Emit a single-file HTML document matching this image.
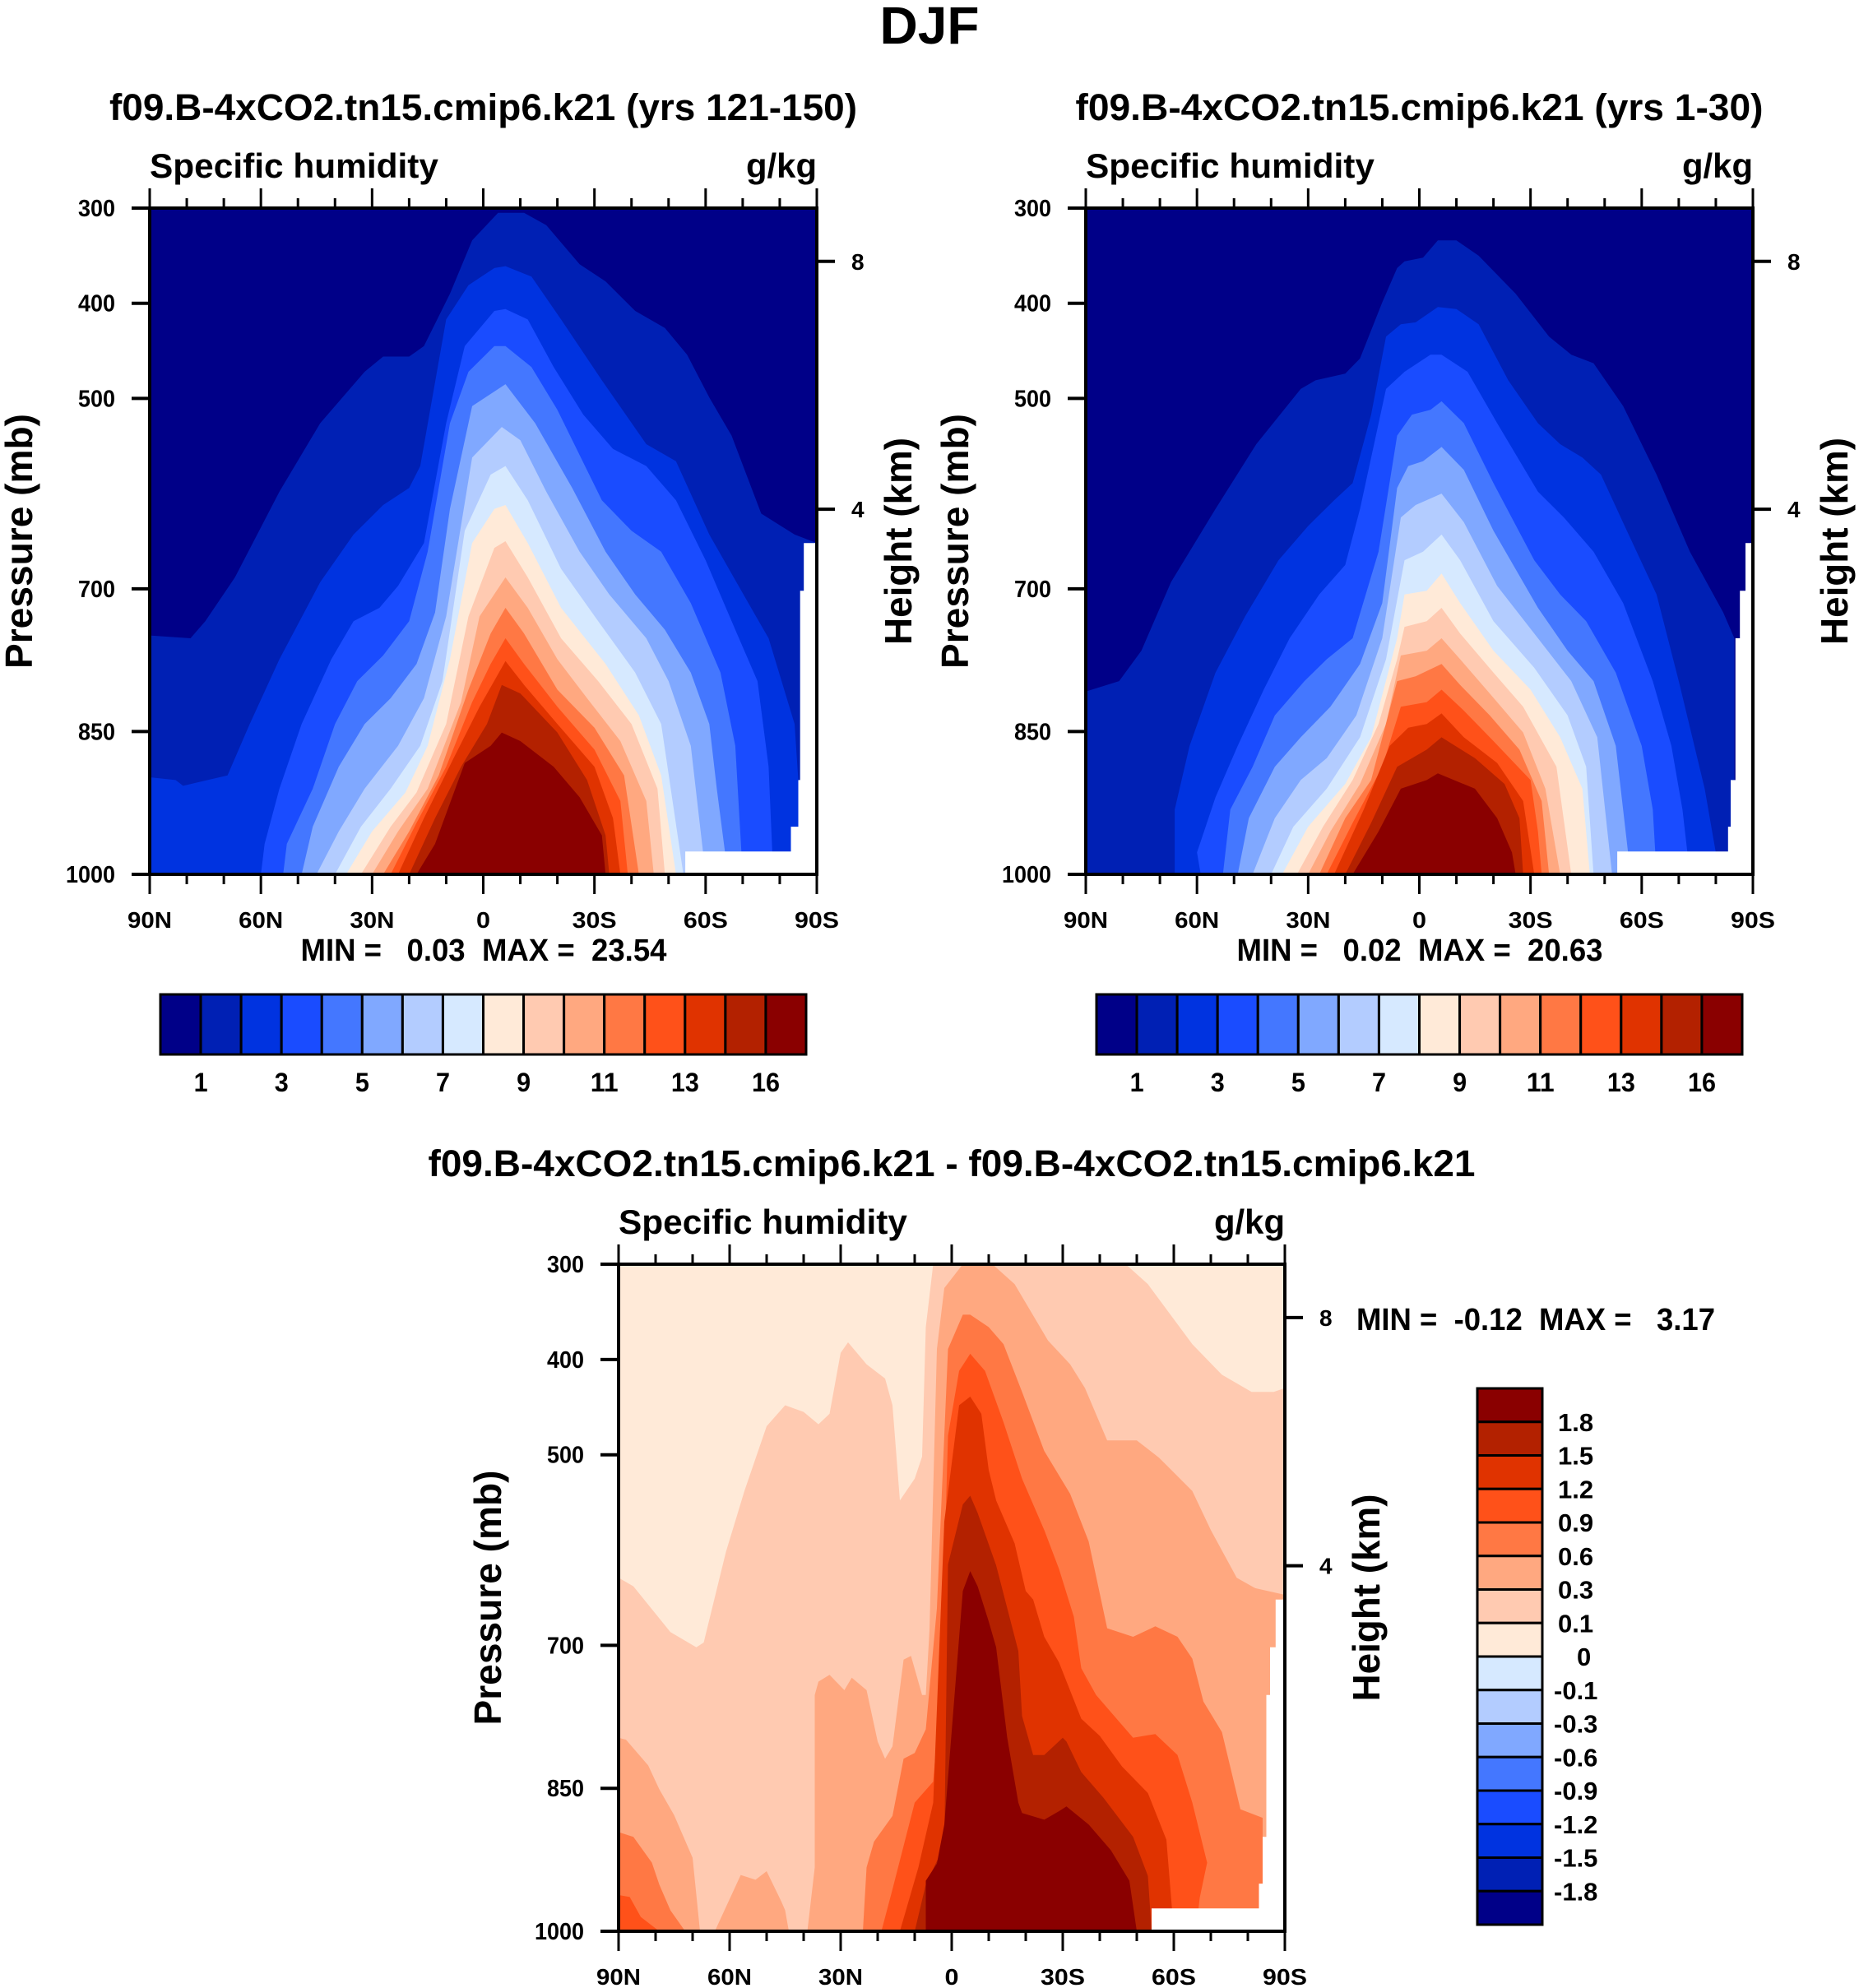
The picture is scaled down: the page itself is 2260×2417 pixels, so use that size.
<!DOCTYPE html>
<html><head><meta charset="utf-8"><title>DJF Specific humidity</title>
<style>html,body{margin:0;padding:0;background:#fff}svg{display:block}text{font-family:"Liberation Sans",sans-serif;font-weight:bold;fill:#000}</style>
</head><body>
<svg id="fig" xmlns="http://www.w3.org/2000/svg" width="2260" height="2417" viewBox="0 0 2260 2417">
<text x="1130" y="53" font-size="64" text-anchor="middle">DJF</text>
</svg>
<script>
// ---------- data ----------
const colors = ["#000088","#0020b4","#0033e0","#1a4cff","#4477ff","#80a8ff","#b3ccff","#d6e9ff","#ffead8","#ffcab1","#ffa880","#ff7844","#ff5119","#e03300","#b32100","#8a0000"];
const xTickLats = [90,60,30,0,-30,-60,-90];
const xTickLabels = ["90N","60N","30N","0","30S","60S","90S"];
const pTicks = [300,400,500,700,850,1000];
const pTickLabels = ["300","400","500","700","850","1000"];
const hTicks = [8,4];
const topBarLabels = ["1","3","5","7","9","11","13","16"];
const topBarLabelIdx = [1,3,5,7,9,11,13,15];
const diffBarLabels = ["1.8","1.5","1.2","0.9","0.6","0.3","0.1","0","-0.1","-0.3","-0.6","-0.9","-1.2","-1.5","-1.8"];

// Panel A (yrs 121-150): contour level regions (lat, pressure mb)
const aLat = [
 [90,79,75,67,55,44,32,27,20,16,9,3,-4,-11,-17,-26,-33,-41,-49,-55,-61,-67,-75,-84,-90],
 [90,83,81,69,63,55,44,35,27,20,17,10,4,-3,-6,-13,-21,-32,-44,-52,-61,-73,-77,-84,-85,-85],
 [60,59,55,49,41,35,28,23,16,10,5,-3,-6,-12,-19,-27,-35,-44,-52,-60,-68,-74,-77,-78,-78],
 [54,53,46,40,34,27,20,15,9,4,-3,-6,-13,-20,-32,-40,-48,-56,-64,-68,-70],
 [49,46,39,32,25,18,13,9,3,-6,-14,-24,-33,-41,-49,-56,-61,-63,-66],
 [45,39,32,23,16,10,3,-5,-10,-17,-26,-34,-44,-50,-56,-60],
 [40,33,25,17,11,5,-2,-6,-12,-21,-31,-41,-48,-54],
 [37,30,21,15,9,3,-3,-6,-12,-21,-33,-42,-48,-52],
 [33,25,18,10,4,-3,-6,-12,-21,-31,-40,-47,-49],
 [30,23,15,6,1,-6,-12,-20,-28,-37,-44,-46],
 [27,20,12,4,-2,-6,-11,-20,-30,-38,-42],
 [25,18,10,3,-2,-6,-11,-20,-30,-37,-39],
 [23,16,8,1,-6,-11,-20,-30,-35,-37],
 [20,13,6,-1,-5,-10,-20,-28,-33,-34],
 [18,13,5,-2,-5,-10,-19,-26,-32,-33]
];
const aP = [
 [749,752,734,688,598,526,472,456,456,445,390,334,305,305,318,359,377,408,426,454,499,539,621,643,652],
 [898,901,907,896,842,774,693,643,612,594,571,417,381,363,361,372,417,481,548,566,643,725,752,842,901,1000],
 [1000,968,910,842,774,734,720,697,652,526,445,408,406,417,467,517,553,571,607,670,743,797,887,977,1000],
 [1000,968,910,842,797,770,734,661,526,472,445,445,467,512,607,639,661,715,788,865,1000],
 [1000,950,887,842,815,779,725,616,508,485,526,594,661,706,743,788,842,910,1000],
 [1000,955,910,865,815,729,562,530,544,598,661,706,752,797,865,1000],
 [1000,950,910,865,797,639,580,571,607,679,734,788,842,1000],
 [1000,955,914,865,774,652,616,612,652,720,779,833,896,1000],
 [1000,950,914,842,729,657,650,688,752,797,842,910,1000],
 [1000,955,910,819,729,688,720,774,815,860,923,1000],
 [1000,955,896,806,747,720,747,806,846,896,1000],
 [1000,946,887,819,779,752,779,824,869,923,1000],
 [1000,941,878,824,776,801,842,887,941,1000],
 [1000,941,887,842,801,810,851,901,959,1000],
 [1000,968,883,865,851,860,887,919,959,1000]
];
// Panel B (yrs 1-30)
const bLat = [
 [90,81,75,67,55,44,32,28,20,16,10,6,4,-1,-5,-10,-16,-26,-35,-41,-47,-55,-64,-73,-82,-85,-85],
 [66,66,62,55,47,38,30,23,18,13,9,5,1,-5,-10,-16,-24,-32,-38,-44,-49,-56,-64,-70,-77,-80,-80],
 [59,60,55,49,42,35,27,20,16,9,4,-3,-6,-13,-21,-32,-39,-47,-55,-63,-68,-71,-73],
 [53,51,45,39,31,25,18,11,6,2,-3,-6,-12,-20,-31,-38,-45,-53,-60,-63,-64],
 [49,46,39,32,24,16,10,6,3,-1,-6,-12,-20,-32,-40,-47,-53,-57],
 [45,39,32,25,17,10,5,1,-6,-12,-21,-32,-41,-48,-52],
 [40,34,25,16,9,4,-1,-6,-11,-20,-31,-40,-45,-47],
 [37,30,20,13,6,4,-2,-6,-11,-20,-30,-38,-44,-46],
 [33,26,18,11,6,4,-2,-6,-11,-20,-28,-37,-41],
 [30,24,16,9,5,-2,-6,-11,-19,-28,-34,-38],
 [27,20,13,6,1,-6,-11,-19,-27,-33,-35],
 [25,18,10,5,-2,-6,-12,-20,-30,-32,-33],
 [23,15,8,3,-2,-6,-12,-21,-28,-31],
 [20,13,6,-2,-6,-15,-23,-27,-28],
 [18,11,5,-2,-5,-15,-21,-25,-26]
];
const bP = [
 [808,797,765,693,616,548,490,481,474,458,399,363,356,352,334,334,350,390,435,454,463,508,580,661,725,752,1000],
 [1000,932,865,788,729,670,634,607,589,517,435,422,420,404,406,422,481,526,548,562,580,639,706,797,910,977,1000],
 [1000,977,919,865,806,752,706,675,616,490,472,454,454,472,526,598,625,661,715,797,865,932,1000],
 [1000,932,887,833,797,774,752,661,539,517,512,503,526,589,670,706,734,788,865,932,1000],
 [1000,941,887,856,824,779,715,594,571,566,551,575,639,720,765,797,865,1000],
 [1000,941,901,878,833,752,625,612,600,630,697,752,797,856,1000],
 [1000,950,910,856,774,670,661,643,670,734,783,833,887,1000],
 [1000,950,905,856,752,706,702,684,715,765,806,856,910,1000],
 [1000,950,901,842,774,740,734,720,747,788,824,887,1000],
 [1000,955,905,842,770,765,752,774,810,851,910,1000],
 [1000,941,901,797,792,779,801,833,869,923,1000],
 [1000,946,887,824,819,806,828,860,901,955,1000],
 [1000,932,865,846,842,831,856,883,923,1000],
 [1000,946,887,869,856,878,905,941,1000],
 [1000,955,910,901,894,910,941,977,1000]
];
// Panel C (difference): levels 0.1,0.3,0.6,0.9,1.2,1.5,1.8 (each may have several blobs)
const cLevelIdx = [9,10,10,10,11,11,12,12,13,14,15];
const cLat = [
 [90,86,76,69,67,61,56,50,45,40,36,33,30,28,23,18,16,14,10,8,7,5,-47,-53,-65,-73,-81,-87,-90],
 [39,37,37,36,33,29,27,23,20,18,16,13,11,8,7,6,4,2,-3,-11,-17,-26,-32,-36,-42,-50,-56,-65,-70,-77,-82,-90],
 [90,88,82,79,75,70,68],
 [64,57,53,50,46,45,44],
 [24,23,21,16,13,10,7,4,3,1,-3,-5,-10,-14,-19,-25,-32,-37,-42,-49,-55,-61,-65,-68,-73,-78,-84,-84],
 [90,86,81,79,76,72],
 [19,16,10,5,3,1,-2,-5,-9,-14,-19,-25,-29,-33,-35,-39,-45,-49,-55,-61,-65,-69,-67,-66],
 [90,87,84,79],
 [14,9,5,2,-2,-5,-8,-10,-12,-17,-20,-22,-25,-29,-35,-40,-46,-53,-58,-60],
 [10,7,2,1,-3,-5,-7,-12,-15,-18,-19,-22,-25,-30,-31,-35,-41,-49,-53,-54],
 [7,7,4,2,-3,-5,-7,-10,-12,-15,-18,-19,-25,-29,-31,-37,-43,-48,-50]
];
const cP = [
 [629,638,686,702,697,602,538,470,448,455,468,457,393,382,405,420,448,548,525,502,366,300,300,321,384,416,434,434,430],
 [1000,933,752,738,731,747,734,747,801,819,806,715,711,752,752,684,389,325,300,300,321,380,405,430,485,485,503,538,579,629,640,647],
 [797,799,826,851,878,923,1000],
 [1000,941,946,937,969,978,1000],
 [1000,933,906,879,819,813,788,661,570,389,353,353,366,384,434,496,541,591,682,691,680,691,714,759,791,872,881,1000],
 [896,901,928,951,978,1000],
 [1000,956,865,843,752,480,412,394,412,466,525,579,620,670,724,752,779,797,793,815,865,928,965,1000],
 [962,964,985,1000],
 [1000,933,865,570,448,439,457,516,548,593,643,652,691,718,777,795,827,855,904,1000],
 [1000,951,910,615,552,543,561,616,661,706,774,815,815,797,801,833,860,901,942,1000],
 [1000,947,929,888,643,622,638,675,702,797,865,876,883,874,869,888,915,947,1000]
];
// missing-data (below ground) mask per panel
const aMaskLat = [-90,-86.5,-86.5,-85.5,-85.5,-85,-85,-83,-83,-54.5,-54.5,-90];
const aMaskP = [652,652,702,702,901,901,950,950,976,976,1000,1000];
const bMaskLat = [-90,-88,-88,-86.5,-86.5,-85.3,-85.3,-84,-84,-83.3,-83.3,-53.4,-53.4,-90];
const bMaskP = [652,652,702,702,752,752,901,901,950,950,976,976,1000,1000];
const cMaskLat = [-90,-87.5,-87.5,-86,-86,-85,-85,-84,-84,-83,-83,-54,-54,-90];
const cMaskP = [652,652,702,702,752,752,901,901,950,950,976,976,1000,1000];

// ---------- drawing ----------
const NS = "http://www.w3.org/2000/svg";
const svg = document.getElementById("fig");
function el(tag, attrs, parent){
  const e = document.createElementNS(NS, tag);
  for (const k in attrs) e.setAttribute(k, attrs[k]);
  (parent||svg).appendChild(e);
  return e;
}
function txt(str, x, y, size, anchor, parent, extra){
  const t = el("text", Object.assign({x:x, y:y, "font-size":size, "text-anchor":anchor||"start"}, extra||{}), parent);
  t.textContent = str;
  return t;
}
function hToP(h){ return 1013.25*Math.pow(1-2.25577e-5*h*1000, 5.25588); }

function drawPanel(cfg){
  const B = cfg.box;
  const xS = lat => B.x + (90-lat)/180*B.w;
  const yS = p => B.y + (p-300)/700*B.h;
  const g = el("g", {});
  
  
  const cid = "clip-"+cfg.name;
  const cp = el("clipPath", {id: cid}, g);
  el("rect", {x:B.x, y:B.y, width:B.w, height:B.h}, cp);
  const plot = el("g", {"clip-path":"url(#"+cid+")"}, g);
  const bg = el("rect", {x:B.x, y:B.y, width:B.w, height:B.h, fill: colors[cfg.bgIdx]}, plot);
  
  
  cfg.lats.forEach((la, i) => {
    const ps = cfg.ps[i];
    const pts = la.map((l, j) => xS(l).toFixed(1)+","+yS(ps[j]).toFixed(1));
    pts.push(xS(la[la.length-1]).toFixed(1)+","+yS(1000));
    pts.push(xS(la[0]).toFixed(1)+","+yS(1000));
    const poly = el("polygon", {points: pts.join(" "), fill: colors[cfg.levelIdx[i]]}, plot);
    
    
  });
  const mpts = cfg.maskLat.map((l, j) => xS(l).toFixed(1)+","+yS(cfg.maskP[j]).toFixed(1));
  const mask = el("polygon", {points: mpts.join(" "), fill: "#fff"}, plot);
  
  
  const frame = el("rect", {x:B.x, y:B.y, width:B.w, height:B.h, fill:"none", stroke:"#000", "stroke-width":4}, g);
  
  
  for (let lat = 90; lat >= -90; lat -= 10) {
    const major = lat % 30 === 0;
    const L = major ? 24 : 12;
    const x = xS(lat);
    el("line", {x1:x, x2:x, y1:B.y, y2:B.y-L, stroke:"#000", "stroke-width":3}, g);
    el("line", {x1:x, x2:x, y1:B.y+B.h, y2:B.y+B.h+L, stroke:"#000", "stroke-width":3}, g);
  }
  xTickLats.forEach((lat, i) => {
    const t = txt(xTickLabels[i], xS(lat), B.y+B.h+65, 28, "middle", g, {textLength: xTickLabels[i].length>1? 54:17, lengthAdjust:"spacingAndGlyphs"});
    
    
  });
  pTicks.forEach((p, i) => {
    const y = yS(p);
    el("line", {x1:B.x-22, x2:B.x, y1:y, y2:y, stroke:"#000", "stroke-width":4}, g);
    const t = txt(pTickLabels[i], B.x-42, y+10, 29, "end", g, {textLength: pTickLabels[i].length*15, lengthAdjust:"spacingAndGlyphs"});
    
    
  });
  hTicks.forEach(h => {
    const y = yS(hToP(h));
    el("line", {x1:B.x+B.w, x2:B.x+B.w+22, y1:y, y2:y, stroke:"#000", "stroke-width":4}, g);
    const t = txt(String(h), B.x+B.w+42, y+10, 28, "start", g);
    
    
  });
  const cy = B.y + B.h/2;
  const yl = txt("Pressure (mb)", 0, 0, 46, "middle", g, {transform:"translate("+(B.x-143)+","+cy+") rotate(-90)", textLength:310, lengthAdjust:"spacingAndGlyphs"});
  
  
  const hl = txt("Height (km)", 0, 0, 46, "middle", g, {transform:"translate("+(B.x+B.w+115)+","+cy+") rotate(-90)", textLength:252, lengthAdjust:"spacingAndGlyphs"});
  
  
  const sh = txt("Specific humidity", B.x, B.y-37, 42, "start", g, {textLength:351, lengthAdjust:"spacingAndGlyphs"});
  
  
  const un = txt("g/kg", B.x+B.w, B.y-37, 42, "end", g, {textLength:86, lengthAdjust:"spacingAndGlyphs"});
  
  
  const ti = txt(cfg.title, B.x+B.w/2, B.y-107, 45, "middle", g, {textLength:cfg.titleW, lengthAdjust:"spacingAndGlyphs"});
  
  
  return {xS, yS};
}

function horizBar(x0, y0, w, h, name){
  const g = el("g", {});
  
  
  const bw = w/colors.length;
  colors.forEach((c, i) => {
    const r = el("rect", {x:x0+i*bw, y:y0, width:bw, height:h, fill:c, stroke:"#000", "stroke-width":3}, g);
    
    
  });
  topBarLabels.forEach((s, i) => {
    const t = txt(s, x0+topBarLabelIdx[i]*bw, y0+h+45, 32, "middle", g, {textLength: s.length*17, lengthAdjust:"spacingAndGlyphs"});
    
    
  });
}

const boxA = {x:182, y:253, w:811, h:810};
const boxB = {x:1320, y:253, w:811, h:810};
const boxC = {x:752, y:1537, w:810, h:811};
const allTop = Array.from({length:15}, (_, i) => i+1);

drawPanel({name:"panel-yrs-121-150", box:boxA, bgIdx:0, levelIdx:allTop, lats:aLat, ps:aP, maskLat:aMaskLat, maskP:aMaskP, title:"f09.B-4xCO2.tn15.cmip6.k21 (yrs 121-150)", titleW:909});
drawPanel({name:"panel-yrs-1-30", box:boxB, bgIdx:0, levelIdx:allTop, lats:bLat, ps:bP, maskLat:bMaskLat, maskP:bMaskP, title:"f09.B-4xCO2.tn15.cmip6.k21 (yrs 1-30)", titleW:836});
drawPanel({name:"panel-difference", box:boxC, bgIdx:8, levelIdx:cLevelIdx, lats:cLat, ps:cP, maskLat:cMaskLat, maskP:cMaskP, title:"f09.B-4xCO2.tn15.cmip6.k21 - f09.B-4xCO2.tn15.cmip6.k21", titleW:1273});

let t;
t = txt("MIN =   0.03  MAX =  23.54", 588, 1168, 38, "middle", null, {textLength:445, lengthAdjust:"spacingAndGlyphs", style:"white-space:pre"});


t = txt("MIN =   0.02  MAX =  20.63", 1726, 1168, 38, "middle", null, {textLength:445, lengthAdjust:"spacingAndGlyphs", style:"white-space:pre"});


t = txt("MIN =  -0.12  MAX =   3.17", 1649, 1617, 38, "start", null, {textLength:436, lengthAdjust:"spacingAndGlyphs", style:"white-space:pre"});



horizBar(195, 1209, 785, 73, "colorbar-a");
horizBar(1333, 1209, 785, 73, "colorbar-b");

(function(){
  const g = el("g", {});
  
  
  const x0 = 1796, y0 = 1688, w = 79, h = 652, bh = h/16;
  for (let i = 0; i < 16; i++) {
    const r = el("rect", {x:x0, y:y0+i*bh, width:w, height:bh, fill:colors[15-i], stroke:"#000", "stroke-width":3}, g);
    
    
  }
  diffBarLabels.forEach((s, i) => {
    const y = y0 + (i+1)*bh + 11;
    const tt = txt(s, s.charAt(0)==="-" ? 1889 : (s==="0" ? 1917 : 1894), y, 31, "start", g);
    
    
  });
})();
</script>
</body></html>
